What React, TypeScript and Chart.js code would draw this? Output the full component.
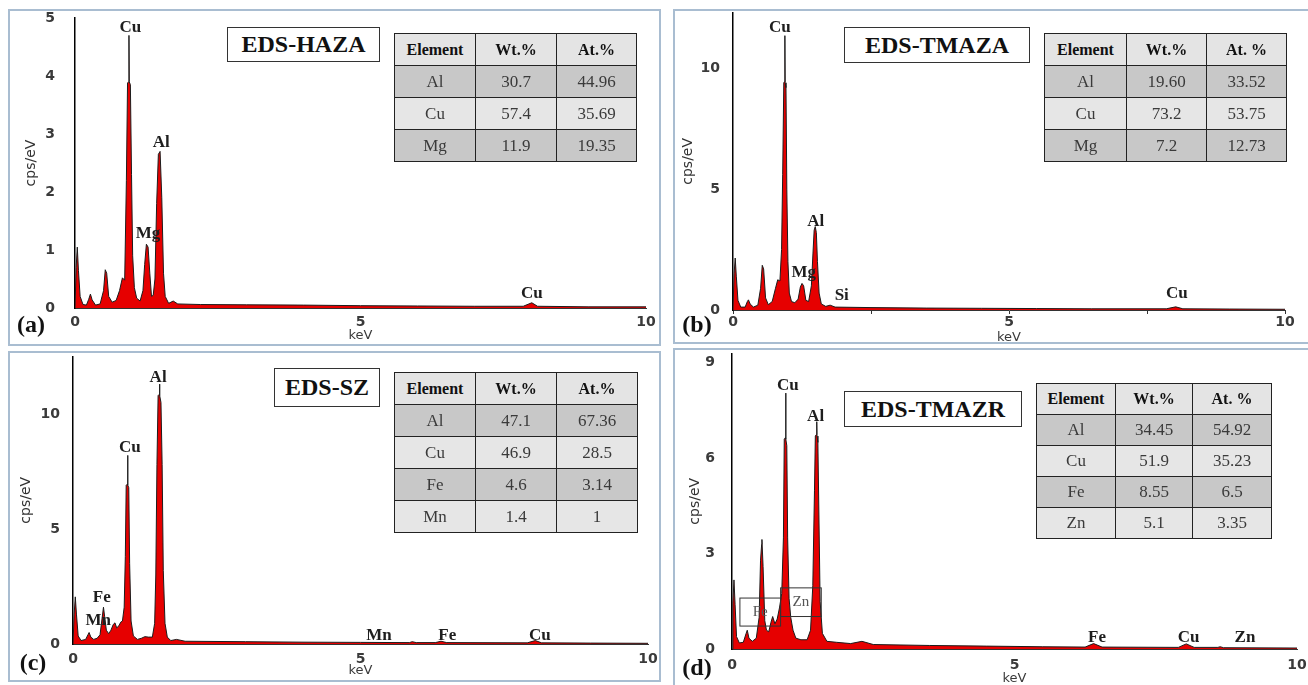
import React, { useEffect, useRef } from 'react';
import { Chart, registerables } from 'chart.js';

Chart.register(...registerables);

type Pt = [number, number];

// ---------- spectra (keV, cps/eV) ----------
const spectrumA: Pt[] = [
  [0.0, 0.0], [0.02, 0.7], [0.04, 1.05], [0.06, 0.65], [0.09, 0.2], [0.14, 0.06], [0.2, 0.05],
  [0.24, 0.15], [0.27, 0.24], [0.3, 0.14], [0.36, 0.05], [0.44, 0.07], [0.5, 0.3], [0.53, 0.66],
  [0.555, 0.6], [0.59, 0.2], [0.65, 0.1], [0.72, 0.13], [0.78, 0.3], [0.83, 0.52], [0.87, 0.48],
  [0.9, 2.2], [0.92, 3.88], [0.94, 3.9], [0.945, 4.7], [0.95, 3.9], [0.97, 3.85], [0.99, 2.3],
  [1.01, 0.9], [1.04, 0.35], [1.08, 0.17], [1.14, 0.12], [1.19, 0.3], [1.22, 0.75], [1.25, 1.1],
  [1.28, 1.05], [1.31, 0.6], [1.34, 0.2], [1.37, 0.22], [1.4, 0.5], [1.43, 1.8], [1.46, 2.65],
  [1.49, 2.7], [1.52, 1.9], [1.55, 0.6], [1.58, 0.2], [1.64, 0.08], [1.72, 0.12], [1.8, 0.07],
  [2.2, 0.06], [3.0, 0.055], [4.0, 0.05], [5.0, 0.04], [6.0, 0.035], [7.0, 0.03], [7.85, 0.03],
  [8.0, 0.09], [8.1, 0.03], [9.0, 0.02], [10.0, 0.02],
];

const spectrumB: Pt[] = [
  [0.0, 0.0], [0.02, 1.5], [0.04, 2.15], [0.06, 1.4], [0.09, 0.4], [0.14, 0.12], [0.22, 0.12],
  [0.26, 0.35], [0.28, 0.42], [0.31, 0.25], [0.37, 0.12], [0.45, 0.2], [0.5, 0.9], [0.53, 1.85],
  [0.555, 1.7], [0.59, 0.5], [0.64, 0.22], [0.71, 0.35], [0.77, 0.9], [0.81, 1.25], [0.85, 1.2],
  [0.88, 2.5], [0.9, 5.6], [0.92, 9.4], [0.935, 9.45], [0.94, 11.35], [0.945, 9.4], [0.96, 9.2],
  [0.975, 5.0], [0.995, 2.0], [1.02, 0.7], [1.06, 0.35], [1.12, 0.3], [1.18, 0.45], [1.22, 0.95],
  [1.25, 1.1], [1.28, 1.0], [1.32, 0.4], [1.37, 0.35], [1.42, 1.0], [1.45, 2.4], [1.47, 3.3],
  [1.49, 3.45], [1.51, 3.2], [1.53, 2.0], [1.56, 0.7], [1.6, 0.25], [1.68, 0.15], [1.76, 0.2],
  [1.85, 0.12], [2.5, 0.1], [3.5, 0.08], [4.5, 0.07], [5.5, 0.06], [6.5, 0.05], [7.85, 0.05],
  [8.02, 0.13], [8.15, 0.05], [9.0, 0.04], [10.0, 0.03],
];

const spectrumC: Pt[] = [
  [0.0, 0.0], [0.02, 1.3], [0.04, 2.05], [0.06, 1.3], [0.09, 0.35], [0.14, 0.15], [0.22, 0.2],
  [0.26, 0.4], [0.28, 0.5], [0.31, 0.3], [0.36, 0.2], [0.42, 0.25], [0.47, 0.4], [0.5, 1.0],
  [0.53, 1.6], [0.55, 1.2], [0.58, 0.6], [0.62, 0.45], [0.66, 0.6], [0.7, 0.85], [0.73, 0.92],
  [0.76, 0.7], [0.8, 0.8], [0.83, 0.95], [0.86, 1.0], [0.89, 1.6], [0.91, 3.8], [0.925, 6.9],
  [0.945, 6.95], [0.95, 8.2], [0.955, 6.9], [0.97, 6.8], [0.985, 3.5], [1.01, 1.0], [1.05, 0.35],
  [1.12, 0.2], [1.19, 0.25], [1.25, 0.32], [1.31, 0.3], [1.38, 0.3], [1.42, 0.9], [1.44, 3.0],
  [1.46, 7.8], [1.48, 10.8], [1.5, 10.85], [1.505, 11.3], [1.51, 10.8], [1.53, 10.5], [1.55, 7.8],
  [1.57, 3.2], [1.6, 0.9], [1.64, 0.3], [1.7, 0.15], [1.8, 0.2], [1.95, 0.12], [3.0, 0.1],
  [4.0, 0.08], [5.0, 0.07], [5.85, 0.06], [5.9, 0.1], [5.97, 0.06], [6.3, 0.06], [6.4, 0.12],
  [6.5, 0.06], [7.9, 0.05], [8.04, 0.15], [8.15, 0.05], [9.0, 0.04], [10.0, 0.03],
];

const spectrumD: Pt[] = [
  [0.0, 0.0], [0.015, 1.45], [0.035, 2.18], [0.055, 1.4], [0.08, 0.4], [0.13, 0.2], [0.2, 0.22],
  [0.25, 0.5], [0.27, 0.6], [0.3, 0.35], [0.36, 0.25], [0.43, 0.35], [0.48, 1.0], [0.505, 2.8],
  [0.525, 3.3], [0.53, 3.45], [0.55, 2.6], [0.58, 0.9], [0.61, 0.6], [0.65, 0.55], [0.69, 0.85],
  [0.72, 1.03], [0.76, 0.8], [0.8, 0.95], [0.84, 1.3], [0.88, 1.75], [0.91, 3.5], [0.925, 6.6],
  [0.945, 6.65], [0.95, 8.05], [0.955, 6.6], [0.97, 6.4], [0.985, 3.5], [1.01, 1.6], [1.04, 1.0],
  [1.08, 0.6], [1.13, 0.35], [1.22, 0.3], [1.33, 0.3], [1.39, 0.6], [1.43, 2.0], [1.46, 5.0],
  [1.475, 6.7], [1.495, 6.75], [1.5, 7.15], [1.505, 6.7], [1.52, 6.5], [1.54, 4.0], [1.56, 1.5],
  [1.6, 0.5], [1.68, 0.25], [1.85, 0.22], [2.1, 0.18], [2.3, 0.25], [2.5, 0.15], [3.5, 0.12],
  [4.5, 0.1], [5.5, 0.08], [6.25, 0.07], [6.4, 0.18], [6.55, 0.07], [7.9, 0.06], [8.04, 0.17],
  [8.18, 0.06], [8.6, 0.06], [8.64, 0.08], [8.7, 0.05], [10.0, 0.04],
];

// ---------- peak labels [text, keV, cps] ----------
type Lbl = [string, number, number];
const peakLabelsA: Lbl[] = [['Cu', 0.97, 4.84], ['Al', 1.51, 2.85], ['Mg', 1.28, 1.29], ['Cu', 8.0, 0.24]];
const peakLabelsB: Lbl[] = [['Cu', 0.85, 11.69], ['Al', 1.5, 3.65], ['Mg', 1.28, 1.53], ['Si', 1.97, 0.59], ['Cu', 8.04, 0.66]];
const peakLabelsC: Lbl[] = [
  ['Al', 1.48, 11.59], ['Cu', 0.99, 8.55], ['Fe', 0.5, 2.02], ['Mn', 0.44, 1.01],
  ['Mn', 5.32, 0.38], ['Fe', 6.51, 0.38], ['Cu', 8.12, 0.38],
];
const peakLabelsD: Lbl[] = [['Cu', 0.99, 8.28], ['Al', 1.48, 7.31], ['Fe', 6.46, 0.37], ['Cu', 8.08, 0.37], ['Zn', 9.08, 0.37]];
// boxed labels [text, keVFrom, keVTo, cpsFrom, cpsTo]
type BoxLbl = [string, number, number, number, number];
const boxLabelsD: BoxLbl[] = [['Fe', 0.14, 0.86, 0.73, 1.61], ['Zn', 0.86, 1.58, 1.03, 1.93]];

// ---------- axis ----------
const xTicksMajor = 5;
const yMaxA = 5, yStepA = 1;
const yMaxB = 12.3, yStepB = 5;
const yMaxC = 12.5, yStepC = 5;
const yMaxD = 9.3, yStepD = 3;

// ---------- composition tables ----------
const headerA = ['Element', 'Wt.%', 'At.%'];
const rowsA = [['Al', '30.7', '44.96'], ['Cu', '57.4', '35.69'], ['Mg', '11.9', '19.35']];
const headerB = ['Element', 'Wt.%', 'At. %'];
const rowsB = [['Al', '19.60', '33.52'], ['Cu', '73.2', '53.75'], ['Mg', '7.2', '12.73']];
const headerC = ['Element', 'Wt.%', 'At.%'];
const rowsC = [['Al', '47.1', '67.36'], ['Cu', '46.9', '28.5'], ['Fe', '4.6', '3.14'], ['Mn', '1.4', '1']];
const headerD = ['Element', 'Wt.%', 'At. %'];
const rowsD = [['Al', '34.45', '54.92'], ['Cu', '51.9', '35.23'], ['Fe', '8.55', '6.5'], ['Zn', '5.1', '3.35']];

const titleA = 'EDS-HAZA';
const titleB = 'EDS-TMAZA';
const titleC = 'EDS-SZ';
const titleD = 'EDS-TMAZR';

// ---------- layout (page pixels) ----------
interface Geo {
  left: number; top: number; width: number; height: number;
  caLeft: number; caRight: number; caTop: number; caBottom: number;
  yTickPad: number; yTitlePad: number; xTickPad: number; xTitlePad: number;
  minorTicks: boolean;
}

const geoA: Geo = { left: 8, top: 9, width: 653, height: 337, caLeft: 75, caRight: 646, caTop: 18, caBottom: 308, yTickPad: 20, yTitlePad: 16, xTickPad: 5.6, xTitlePad: 3.5, minorTicks: false };
const geoB: Geo = { left: 673, top: 9, width: 635, height: 335, caLeft: 733, caRight: 1285, caTop: 12.7, caBottom: 310, yTickPad: 13, yTitlePad: 8, xTickPad: 0, xTitlePad: 0, minorTicks: true };
const geoC: Geo = { left: 8, top: 351, width: 653, height: 331, caLeft: 73, caRight: 648, caTop: 356.5, caBottom: 644, yTickPad: 13, yTitlePad: 11.7, xTickPad: 7.1, xTitlePad: 4.5, minorTicks: false };
const geoD: Geo = { left: 673, top: 348, width: 635, height: 337, caLeft: 732, caRight: 1297, caTop: 353.3, caBottom: 649.3, yTickPad: 17, yTitlePad: 15, xTickPad: 7.8, xTitlePad: 0, minorTicks: false };

const tickFont = { family: '"DejaVu Sans", sans-serif', size: 14, weight: 'bold' as const };
const titleFont = { family: '"DejaVu Sans", sans-serif', size: 13, lineHeight: 1 };
const serif = '"Liberation Serif", "Times New Roman", serif';

function annotationPlugin(labels: Lbl[], boxes: BoxLbl[]) {
  return {
    id: 'peakAnnotations',
    afterDatasetsDraw(chart: any) {
      const { ctx, scales } = chart;
      const xs = scales.x, ys = scales.y;
      ctx.save();
      for (const [text, x0, x1, y0, y1] of boxes) {
        const px0 = xs.getPixelForValue(x0), px1 = xs.getPixelForValue(x1);
        const py0 = ys.getPixelForValue(y0), py1 = ys.getPixelForValue(y1);
        ctx.strokeStyle = '#333';
        ctx.lineWidth = 1;
        ctx.strokeRect(px0, py1, px1 - px0, py0 - py1);
        ctx.font = `15px ${serif}`;
        ctx.fillStyle = '#555';
        ctx.textAlign = 'center';
        ctx.textBaseline = 'middle';
        ctx.fillText(text, (px0 + px1) / 2, (py0 + py1) / 2);
      }
      ctx.font = `bold 17px ${serif}`;
      ctx.fillStyle = '#1e1e1e';
      ctx.textAlign = 'center';
      ctx.textBaseline = 'middle';
      for (const [text, x, y] of labels) {
        ctx.fillText(text, xs.getPixelForValue(x), ys.getPixelForValue(y));
      }
      ctx.restore();
    },
  };
}

function Spectrum(props: { data: Pt[]; yMax: number; yStep: number; labels: Lbl[]; boxes: BoxLbl[]; geo: Geo }) {
  const ref = useRef<HTMLCanvasElement>(null);
  const g = props.geo;
  useEffect(() => {
    if (!ref.current) return;
    const chart = new Chart(ref.current, {
      type: 'line',
      data: {
        datasets: [
          {
            data: props.data.map(([x, y]) => ({ x, y })),
            borderColor: '#1c1c1c',
            borderWidth: 1,
            backgroundColor: '#e60000',
            fill: 'origin',
            pointRadius: 0,
            tension: 0,
          },
        ],
      },
      options: {
        animation: false,
        responsive: false,
        maintainAspectRatio: false,
        events: [],
        layout: {
          padding: { left: 0, top: g.caTop - g.top, right: g.left + g.width - g.caRight, bottom: 0 },
        },
        plugins: { legend: { display: false }, tooltip: { enabled: false } },
        scales: {
          x: {
            type: 'linear',
            min: 0,
            max: 10,
            grid: g.minorTicks
              ? { display: true, drawOnChartArea: false, drawTicks: true, tickLength: 4, color: '#333', lineWidth: 1 }
              : { display: false, drawTicks: false },
            border: { display: true, color: '#333', width: 1 },
            ticks: {
              stepSize: g.minorTicks ? xTicksMajor / 2 : xTicksMajor,
              padding: g.xTickPad,
              color: '#3a3a3a',
              font: tickFont,
              maxRotation: 0,
              autoSkip: false,
              callback: (v: any) => (Number(v) % xTicksMajor === 0 ? String(v) : ''),
            },
            title: { display: true, text: 'keV', color: '#3a3a3a', font: titleFont, padding: { top: 0, bottom: g.xTitlePad } },
            afterFit: (s: any) => {
              s.height = g.top + g.height - g.caBottom;
              s.paddingLeft = 0;
              s.paddingRight = 0;
            },
          },
          y: {
            type: 'linear',
            min: 0,
            max: props.yMax,
            grid: { display: false, drawTicks: false },
            border: { display: true, color: '#000', width: 1.5 },
            ticks: {
              stepSize: props.yStep,
              includeBounds: false,
              padding: g.yTickPad,
              color: '#3a3a3a',
              font: tickFont,
            },
            title: { display: true, text: 'cps/eV', color: '#333', font: { ...titleFont, size: 14 }, padding: { top: g.yTitlePad, bottom: 0 } },
            afterFit: (s: any) => {
              s.width = g.caLeft - g.left;
              s.paddingTop = 0;
              s.paddingBottom = 0;
            },
          },
        },
      } as any,
      plugins: [annotationPlugin(props.labels, props.boxes)],
    });
    return () => chart.destroy();
  }, []);
  return (
    <canvas
      ref={ref}
      width={g.width}
      height={g.height}
      style={{ position: 'absolute', left: g.left, top: g.top, width: g.width, height: g.height }}
    />
  );
}

function PanelFrame(props: { left: number; top: number; width: number; height: number }) {
  return (
    <div
      style={{
        position: 'absolute',
        left: props.left,
        top: props.top,
        width: props.width,
        height: props.height,
        border: '2px solid #a9bdd1',
        boxSizing: 'border-box',
        background: '#fff',
      }}
    />
  );
}

function TitleBox(props: { text: string; left: number; top: number; width: number; height: number }) {
  return (
    <div
      style={{
        position: 'absolute',
        left: props.left,
        top: props.top,
        width: props.width,
        height: props.height,
        border: '1.5px solid #333',
        boxSizing: 'border-box',
        background: '#fff',
        display: 'flex',
        alignItems: 'center',
        justifyContent: 'center',
        fontFamily: serif,
        fontWeight: 'bold',
        fontSize: 24,
        color: '#111',
        whiteSpace: 'nowrap',
      }}
    >
      {props.text}
    </div>
  );
}

function CompTable(props: { header: string[]; rows: string[][]; left: number; top: number; colW: number[]; rowH: number }) {
  const totalW = props.colW.reduce((a, b) => a + b, 0);
  const cell = (bg: string): React.CSSProperties => ({
    border: '1.5px solid #222',
    padding: 0,
    textAlign: 'center',
    verticalAlign: 'middle',
    height: props.rowH,
    background: bg,
    overflow: 'hidden',
    whiteSpace: 'nowrap',
  });
  return (
    <table
      style={{
        position: 'absolute',
        left: props.left,
        top: props.top,
        width: totalW,
        borderCollapse: 'collapse',
        tableLayout: 'fixed',
        fontFamily: serif,
      }}
    >
      <colgroup>
        {props.colW.map((w, i) => (
          <col key={i} style={{ width: w }} />
        ))}
      </colgroup>
      <tbody>
        <tr>
          {props.header.map((h, i) => (
            <th key={i} style={{ ...cell('#e4e4e4'), fontWeight: 'bold', fontSize: 16, color: '#111' }}>
              {h}
            </th>
          ))}
        </tr>
        {props.rows.map((r, ri) => (
          <tr key={ri}>
            {r.map((c, ci) => (
              <td key={ci} style={{ ...cell(ri % 2 === 0 ? '#c8c8c8' : '#e6e6e6'), fontSize: 17, color: '#3a3a3a' }}>
                {c}
              </td>
            ))}
          </tr>
        ))}
      </tbody>
    </table>
  );
}

function PanelLetter(props: { text: string; x: number; y: number }) {
  return (
    <div
      style={{
        position: 'absolute',
        left: props.x,
        top: props.y,
        transform: 'translate(-50%, -50%)',
        fontFamily: serif,
        fontWeight: 'bold',
        fontSize: 24,
        lineHeight: 1,
        color: '#111',
        whiteSpace: 'nowrap',
      }}
    >
      {props.text}
    </div>
  );
}

export default function App() {
  return (
    <div style={{ position: 'absolute', left: 0, top: 0, width: 1308, height: 685, overflow: 'hidden', background: '#fff' }}>
      <PanelFrame left={8} top={9} width={653} height={337} />
      <PanelFrame left={673} top={9} width={640} height={335} />
      <PanelFrame left={8} top={351} width={653} height={331} />
      <PanelFrame left={673} top={348} width={640} height={345} />

      <Spectrum data={spectrumA} yMax={yMaxA} yStep={yStepA} labels={peakLabelsA} boxes={[]} geo={geoA} />
      <Spectrum data={spectrumB} yMax={yMaxB} yStep={yStepB} labels={peakLabelsB} boxes={[]} geo={geoB} />
      <Spectrum data={spectrumC} yMax={yMaxC} yStep={yStepC} labels={peakLabelsC} boxes={[]} geo={geoC} />
      <Spectrum data={spectrumD} yMax={yMaxD} yStep={yStepD} labels={peakLabelsD} boxes={boxLabelsD} geo={geoD} />

      <TitleBox text={titleA} left={227} top={27} width={153} height={35} />
      <TitleBox text={titleB} left={844} top={27} width={186} height={36} />
      <TitleBox text={titleC} left={274} top={368} width={106} height={39} />
      <TitleBox text={titleD} left={844} top={391} width={178} height={36} />

      <CompTable header={headerA} rows={rowsA} left={394} top={33} colW={[81, 81, 80]} rowH={31} />
      <CompTable header={headerB} rows={rowsB} left={1044} top={33} colW={[82, 80, 80]} rowH={31} />
      <CompTable header={headerC} rows={rowsC} left={394} top={372} colW={[81, 81, 81]} rowH={31} />
      <CompTable header={headerD} rows={rowsD} left={1036} top={383} colW={[79, 77, 79]} rowH={30} />

      <PanelLetter text="(a)" x={31} y={324} />
      <PanelLetter text="(b)" x={697} y={324} />
      <PanelLetter text="(c)" x={33} y={662} />
      <PanelLetter text="(d)" x={697} y={667} />
    </div>
  );
}
